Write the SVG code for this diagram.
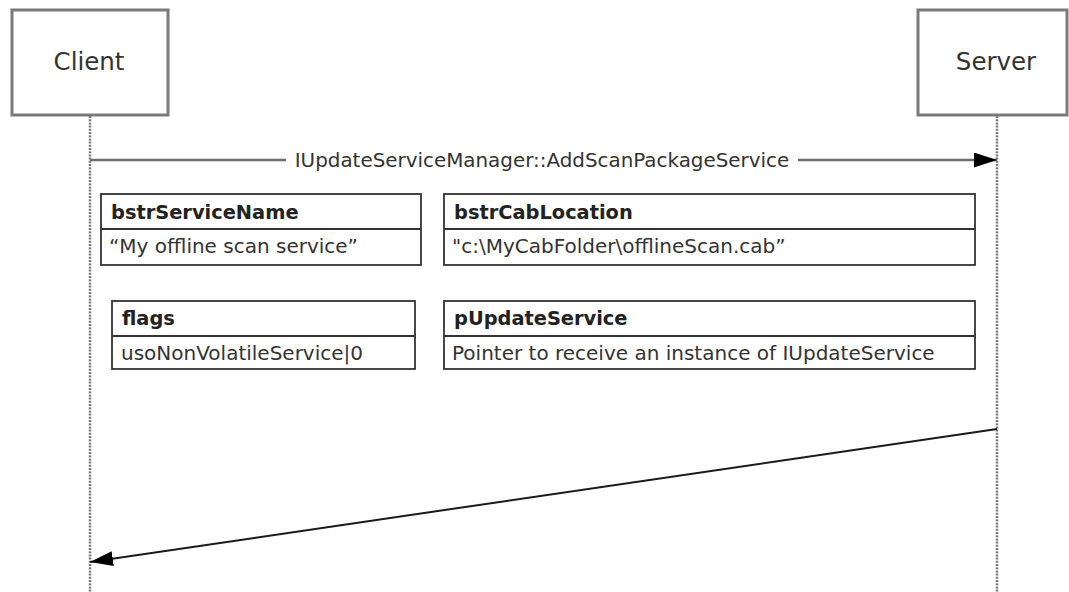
<svg xmlns="http://www.w3.org/2000/svg" width="1069" height="592" viewBox="0 0 1069 592">
<style>
.actor{fill:#fff;stroke:#7a7a7a;stroke-width:3}
.actor-t{font-family:"DejaVu Sans",Verdana,sans-serif;font-size:24.5px;fill:#333;text-anchor:middle}
.life{stroke:#777;stroke-width:2.5;stroke-dasharray:2,1.2;fill:none}
.msg{stroke:#6e6e6e;stroke-width:2.5;fill:none}
.ret{stroke:#1a1a1a;stroke-width:2;fill:none}
.lbl{font-family:"DejaVu Sans",Verdana,sans-serif;font-size:19.9px;fill:#333}
.pbox{fill:#fff;stroke:#333;stroke-width:1.8}
.hdr{font-family:"DejaVu Sans",Verdana,sans-serif;font-size:19.4px;font-weight:bold;fill:#222}
.val{font-family:"DejaVu Sans",Verdana,sans-serif;font-size:20px;fill:#333}
</style>
<defs>
<marker id="ah" markerUnits="userSpaceOnUse" markerWidth="26" markerHeight="18" refX="23" refY="7.5" orient="auto">
<path d="M0,0 L23,7.5 L0,15 z" fill="#000"/>
</marker>
</defs>
<g id="client">
<rect class="actor" x="12" y="10" width="156" height="105"/>
<text class="actor-t" x="89" y="70">Client</text>
</g>
<g id="server">
<rect class="actor" x="918" y="10" width="149" height="105"/>
<text class="actor-t" x="996" y="70">Server</text>
</g>
<g id="connectors">
<line class="life" x1="90" y1="116" x2="90" y2="592"/>
<line class="life" x1="997" y1="116" x2="997" y2="592"/>
<line class="msg" x1="90" y1="160" x2="286" y2="160"/>
<line class="msg" x1="798" y1="160" x2="997" y2="160" marker-end="url(#ah)"/>
<text class="lbl" x="542" y="167" text-anchor="middle">IUpdateServiceManager::AddScanPackageService</text>
<line class="ret" x1="997" y1="429" x2="90" y2="562" marker-end="url(#ah)"/>
</g>
<g id="bstrServiceName">
<rect class="pbox" x="101" y="194" width="320" height="71"/>
<line class="pbox" x1="101" y1="229" x2="421" y2="229"/>
<text class="hdr" x="111" y="219">bstrServiceName</text>
<text class="val" x="109" y="253">“My offline scan service”</text>
</g>
<g id="bstrCabLocation">
<rect class="pbox" x="444" y="194" width="531" height="71"/>
<line class="pbox" x1="444" y1="229" x2="975" y2="229"/>
<text class="hdr" x="454" y="219">bstrCabLocation</text>
<text class="val" x="452" y="253">"c:\MyCabFolder\offlineScan.cab”</text>
</g>
<g id="flags">
<rect class="pbox" x="112" y="301" width="303" height="68"/>
<line class="pbox" x1="112" y1="336" x2="415" y2="336"/>
<text class="hdr" x="122" y="325">flags</text>
<text class="val" x="121" y="360">usoNonVolatileService|0</text>
</g>
<g id="pUpdateService">
<rect class="pbox" x="444" y="301" width="531" height="68"/>
<line class="pbox" x1="444" y1="336" x2="975" y2="336"/>
<text class="hdr" x="454" y="325">pUpdateService</text>
<text class="val" x="452" y="360">Pointer to receive an instance of IUpdateService</text>
</g>
</svg>
